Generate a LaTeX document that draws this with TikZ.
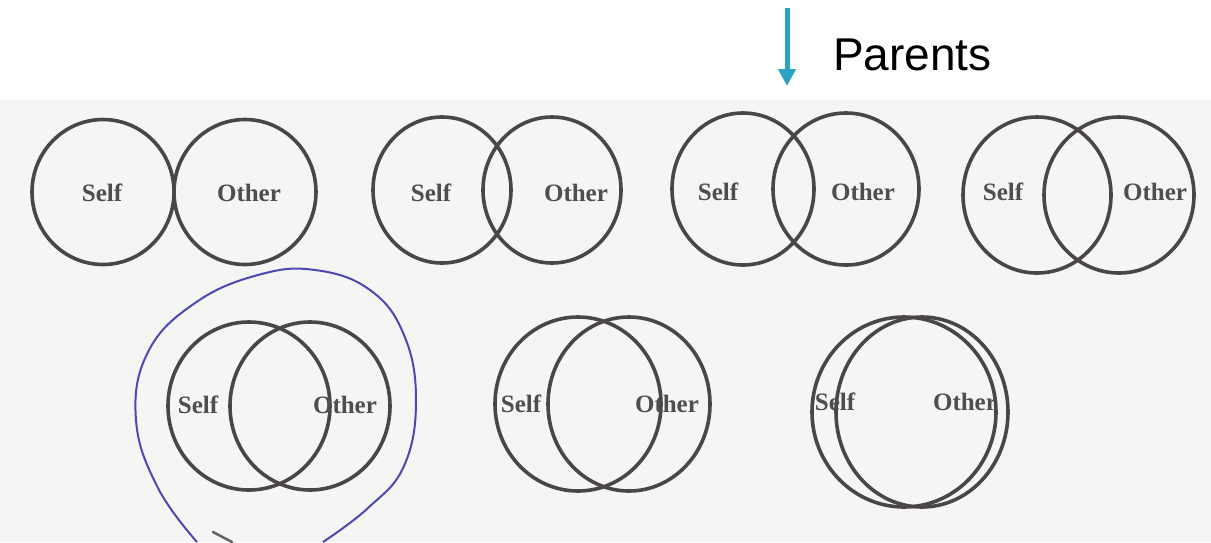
\documentclass[tikz,border=0pt]{standalone}
\usepackage{fontspec}
\setmainfont{Liberation Serif}
\newfontfamily\arialfont{Liberation Sans}
\usetikzlibrary{shapes.geometric,arrows.meta}
\definecolor{ringcol}{HTML}{4A4549}
\definecolor{lblcol}{HTML}{4E4E4E}
\definecolor{arrowblue}{HTML}{2DA3C3}
\definecolor{penblue}{HTML}{4D48B2}
\definecolor{scancol}{HTML}{F5F5F4}
\begin{document}
\begin{tikzpicture}[x=1pt,y=-1pt,
  ring/.style={draw=ringcol, line width=3.6pt, ellipse, inner sep=0pt},
  lab/.style={text=lblcol, font=\fontsize{25}{30}\selectfont\bfseries, inner sep=0pt, anchor=base},
]
\useasboundingbox (0,0) rectangle (1211,542);
\fill[white] (0,0) rectangle (1211,542);
\fill[scancol] (0,100) rectangle (1211,542);

% arrow and label
\coordinate (atop) at (787,8);
\coordinate (abot) at (787,86);
\draw[arrowblue, line width=5pt, -{Triangle[width=17pt,length=17pt]}] (atop) -- (abot);
\node[font=\arialfont\fontsize{46}{55}\selectfont, anchor=base west, inner sep=0pt] (parents) at (833,70) {Parents};

% row 1
\node[ring, minimum width=142pt, minimum height=145pt] (s1) at (103,192) {};
\node[ring, minimum width=142pt, minimum height=145pt] (o1) at (245,192) {};
\node[lab] (ls1) at (102,201) {Self};
\node[lab] (lo1) at (249,201) {Other};

\node[ring, minimum width=138pt, minimum height=146pt] (s2) at (442,190) {};
\node[ring, minimum width=138pt, minimum height=146pt] (o2) at (552,190) {};
\node[lab] (ls2) at (431,201) {Self};
\node[lab] (lo2) at (576,201) {Other};

\node[ring, minimum width=142pt, minimum height=152pt] (s3) at (743,189) {};
\node[ring, minimum width=146pt, minimum height=152pt] (o3) at (846,189) {};
\node[lab] (ls3) at (718,200) {Self};
\node[lab] (lo3) at (863,200) {Other};

\node[ring, minimum width=148pt, minimum height=156pt] (s4) at (1037,195) {};
\node[ring, minimum width=150pt, minimum height=156pt] (o4) at (1119,195) {};
\node[lab] (ls4) at (1003,200) {Self};
\node[lab] (lo4) at (1155,200) {Other};

% row 2
\node[ring, minimum width=162pt, minimum height=168pt] (s5) at (249,406) {};
\node[ring, minimum width=160pt, minimum height=168pt] (o5) at (310,406) {};
\node[lab] (ls5) at (198,413) {Self};
\node[lab] (lo5) at (345,413) {Other};

\node[ring, minimum width=166pt, minimum height=174pt] (s6) at (578,404) {};
\node[ring, minimum width=162pt, minimum height=174pt] (o6) at (629,404) {};
\node[lab] (ls6) at (521,412) {Self};
\node[lab] (lo6) at (667,412) {Other};

\node[ring, minimum width=184pt, minimum height=190pt] (s7) at (904,412) {};
\node[ring, minimum width=172pt, minimum height=190pt] (o7) at (922,412) {};
\node[lab] (ls7) at (835,410) {Self};
\node[lab] (lo7) at (965,410) {Other};

% hand-drawn blue loop
\draw[penblue, line width=2pt] plot[smooth, tension=0.7] coordinates {
  (197,542) (158,488) (136,420) (148,352) (195,303) (258,275)
  (315,270) (370,290) (404,335) (416,400) (404,466) (368,508) (323,542)};
% small pen mark
\draw[ringcol!85, line width=2.5pt, line cap=round] (213,532) -- (232,542);
\end{tikzpicture}
\end{document}
